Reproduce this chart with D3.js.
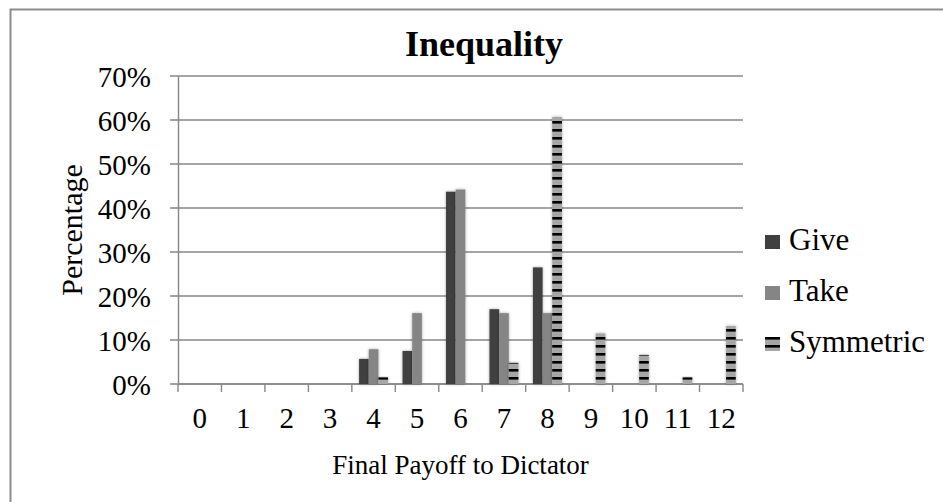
<!DOCTYPE html>
<html>
<head>
<meta charset="utf-8">
<script src="https://cdn.jsdelivr.net/npm/d3@7"></script>
<style>
  body { margin: 0; background: #fff; }
  svg text { font-family: "Liberation Serif", "Times New Roman", serif; fill: #000; }
</style>
</head>
<body>
<div id="chart"></div>
<script>
// data (percent)
var categories = ["0", "1", "2", "3", "4", "5", "6", "7", "8", "9", "10", "11", "12"];
var seriesNames = ["Give", "Take", "Symmetric"];
var give      = [0, 0, 0, 0, 5.7, 7.5, 43.7, 17.0, 26.5, 0, 0, 0, 0];
var take      = [0, 0, 0, 0, 7.9, 16.1, 44.2, 16.1, 16.1, 0, 0, 0, 0];
var symmetric = [0, 0, 0, 0, 1.5, 0, 0, 4.8, 60.7, 11.5, 6.6, 1.5, 13.2];
var yTicks = [0, 10, 20, 30, 40, 50, 60, 70];

var W = 943, H = 502;
var plot = {left: 178, right: 743, top: 76, bottom: 384};
var serif = "'Liberation Serif', 'Times New Roman', serif";

var svg = d3.select("#chart").append("svg")
    .attr("width", W)
    .attr("height", H)
    .attr("font-family", serif);

var defs = svg.append("defs");

// horizontal dash pattern for Symmetric
var pat = defs.append("pattern")
    .attr("id", "stripes")
    .attr("patternUnits", "userSpaceOnUse")
    .attr("width", 8)
    .attr("height", 8);
pat.append("rect").attr("width", 8).attr("height", 8).attr("fill", "#a6a6a6");
pat.append("rect").attr("y", 1).attr("width", 8).attr("height", 2.6).attr("fill", "#000");

var shadow = defs.append("filter")
    .attr("id", "shadow")
    .attr("x", "-50%").attr("y", "-10%")
    .attr("width", "200%").attr("height", "120%");
shadow.append("feDropShadow")
    .attr("dx", 0).attr("dy", 0)
    .attr("stdDeviation", 1.4)
    .attr("flood-color", "#000")
    .attr("flood-opacity", 0.35);

// outer chart border (only top/left are inside the picture)
svg.append("rect")
    .attr("x", 10.5).attr("y", 9.5)
    .attr("width", 1000).attr("height", 600)
    .attr("fill", "none")
    .attr("stroke", "#8c8c8c")
    .attr("stroke-width", 2);

var x = d3.scaleBand()
    .domain(categories)
    .range([plot.left, plot.right])
    .paddingInner(0).paddingOuter(0);

var xSub = d3.scaleBand()
    .domain(seriesNames)
    .range([0, x.bandwidth()])
    .paddingInner(0)
    .paddingOuter(0.75);

var y = d3.scaleLinear()
    .domain([0, 70])
    .range([plot.bottom, plot.top]);

var fills = {"Give": "#404040", "Take": "#858585", "Symmetric": "url(#stripes)"};

// gridlines
svg.append("g")
  .selectAll("line")
  .data(yTicks)
  .enter().append("line")
    .attr("x1", plot.left - 8)
    .attr("x2", plot.right)
    .attr("y1", function(d) { return y(d); })
    .attr("y2", function(d) { return y(d); })
    .attr("stroke", "#878787")
    .attr("stroke-width", 1.4);

// y axis
var yAxis = svg.append("g")
    .attr("transform", "translate(" + plot.left + ",0)")
    .call(d3.axisLeft(y).tickValues(yTicks).tickSize(0).tickPadding(27)
      .tickFormat(function(d) { return d + "%"; }));
yAxis.attr("font-family", serif);
yAxis.select(".domain").attr("stroke", "#878787").attr("stroke-width", 1.4);
yAxis.selectAll("text").style("font-size", "29px").attr("dy", "0.35em");

// x axis
var tickPos = categories.map(function(c) { return x(c); }).concat([plot.right]);
var xAxis = svg.append("g")
    .attr("transform", "translate(0," + plot.bottom + ")");
xAxis.append("line")
    .attr("x1", plot.left).attr("x2", plot.right)
    .attr("stroke", "#878787").attr("stroke-width", 1.4);
xAxis.selectAll(".tk")
  .data(tickPos)
  .enter().append("line")
    .attr("class", "tk")
    .attr("x1", function(d) { return d; })
    .attr("x2", function(d) { return d; })
    .attr("y1", 0).attr("y2", 8)
    .attr("stroke", "#878787").attr("stroke-width", 1.4);
xAxis.selectAll(".lbl")
  .data(categories)
  .enter().append("text")
    .attr("class", "lbl")
    .attr("x", function(d) { return x(d) + x.bandwidth() / 2; })
    .attr("y", 44)
    .attr("text-anchor", "middle")
    .style("font-size", "29px")
    .text(function(d) { return d; });

// bars
var rows = categories.map(function(c, i) {
  return {cat: c, values: [
    {key: "Give", value: give[i]},
    {key: "Take", value: take[i]},
    {key: "Symmetric", value: symmetric[i]}
  ]};
});

svg.append("g")
  .selectAll("g")
  .data(rows)
  .enter().append("g")
    .attr("transform", function(d) { return "translate(" + x(d.cat) + ",0)"; })
  .selectAll("rect")
  .data(function(d) { return d.values.filter(function(v) { return v.value > 0; }); })
  .enter().append("rect")
    .attr("x", function(d) { return xSub(d.key); })
    .attr("y", function(d) { return y(d.value); })
    .attr("width", xSub.bandwidth())
    .attr("height", function(d) { return plot.bottom - y(d.value); })
    .attr("fill", function(d) { return fills[d.key]; })
    .attr("filter", "url(#shadow)");

// title
svg.append("text")
    .attr("x", 484)
    .attr("y", 56)
    .attr("text-anchor", "middle")
    .style("font-size", "36px")
    .style("font-weight", "bold")
    .text("Inequality");

// axis titles
svg.append("text")
    .attr("transform", "translate(82," + ((plot.top + plot.bottom) / 2) + ") rotate(-90)")
    .attr("text-anchor", "middle")
    .style("font-size", "30px")
    .text("Percentage");

svg.append("text")
    .attr("x", (plot.left + plot.right) / 2)
    .attr("y", 474)
    .attr("text-anchor", "middle")
    .style("font-size", "27px")
    .text("Final Payoff to Dictator");

// legend
var legend = svg.selectAll(".legend")
    .data(seriesNames)
  .enter().append("g")
    .attr("class", "legend")
    .attr("transform", function(d, i) { return "translate(765," + (250 + i * 51) + ")"; });

legend.append("rect")
    .attr("x", 0)
    .attr("y", -15)
    .attr("width", 15)
    .attr("height", 14)
    .attr("fill", function(d) { return fills[d]; });

legend.append("text")
    .attr("x", 24)
    .attr("y", 0)
    .style("font-size", "31px")
    .text(function(d) { return d; });
</script>
</body>
</html>
